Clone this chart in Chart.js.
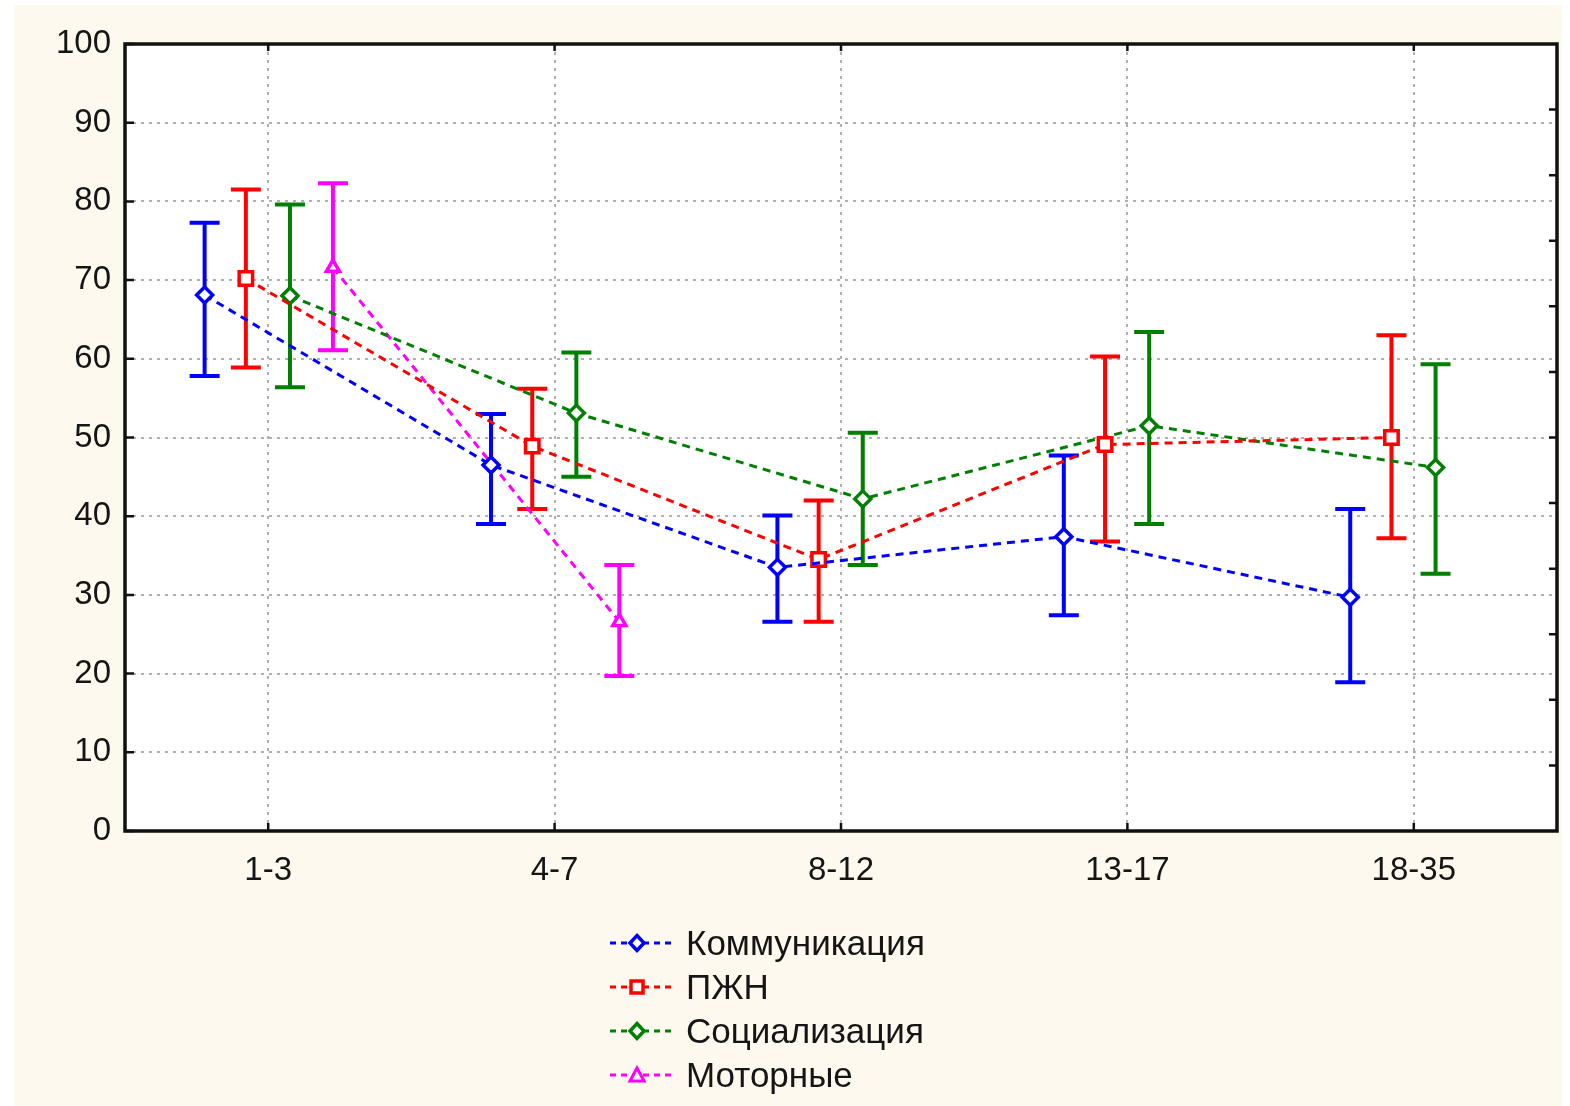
<!DOCTYPE html>
<html><head><meta charset="utf-8">
<script src="https://cdn.jsdelivr.net/npm/chart.js@4.4.1/dist/chart.umd.min.js"></script>
<style>
html,body{margin:0;padding:0;background:#fff;}
#wrap{position:relative;width:1570px;height:1106px;overflow:hidden;}
#bg{position:absolute;left:14px;top:5px;width:1548px;height:1101px;background:#fdf9ee;}
#c{position:absolute;left:0;top:0;}
#legend{position:absolute;left:610px;top:921px;font-family:"Liberation Sans",Arial,sans-serif;font-size:35px;color:#151515;}
.row{height:44px;display:flex;align-items:center;}
.row svg{margin-right:12px;flex:none}
</style></head>
<body>
<div id="wrap"><div id="bg"></div><canvas id="c" width="1570" height="1106"></canvas><div id="legend"></div></div>
<script>
const categories = ['1-3', '4-7', '8-12', '13-17', '18-35'];
const seriesNames = ['Коммуникация', 'ПЖН', 'Социализация', 'Моторные'];
const commMean = [68.1, 46.5, 33.5, 37.4, 29.7];
const commLow  = [57.8, 39.0, 26.6, 27.4, 18.9];
const commHigh = [77.3, 53.0, 40.1, 47.7, 40.9];
const pzhnMean = [70.2, 48.9, 34.5, 49.1, 50.0];
const pzhnLow  = [58.9, 40.9, 26.6, 36.8, 37.2];
const pzhnHigh = [81.5, 56.2, 42.0, 60.3, 63.0];
const socMean  = [68.0, 53.1, 42.2, 51.5, 46.2];
const socLow   = [56.4, 45.0, 33.8, 39.0, 32.7];
const socHigh  = [79.6, 60.8, 50.6, 63.4, 59.3];
const motMean  = [71.6, 26.6, null, null, null];
const motLow   = [61.1, 19.7, null, null, null];
const motHigh  = [82.3, 33.8, null, null, null];
const yTicks = [0, 10, 20, 30, 40, 50, 60, 70, 80, 90, 100];

// presentation
const colors = ['#0000ff', '#ff0000', '#008000', '#ff00ff'];
const shapes = ['rectRot', 'rect', 'rectRot', 'triangle'];
const radii = [8, 9.5, 8, 7.5];
const offsets = [-0.222, -0.078, 0.076, 0.226];
const means = [commMean, pzhnMean, socMean, motMean];
const lows = [commLow, pzhnLow, socLow, motLow];
const highs = [commHigh, pzhnHigh, socHigh, motHigh];

const datasets = seriesNames.map((name, s) => ({
  label: name,
  data: means[s].map((v, i) => v == null ? null : {x: i + 1 + offsets[s], y: v, lo: lows[s][i], hi: highs[s][i]}).filter(p => p),
  borderColor: colors[s],
  borderWidth: 3,
  borderDash: [8, 6],
  pointStyle: shapes[s],
  pointRadius: radii[s],
  pointBorderWidth: 3.5,
  pointBorderColor: colors[s],
  pointBackgroundColor: '#ffffff',
  tension: 0,
  fill: false
}));

const deco = {
  id: 'deco',
  beforeDraw(chart) {
    const {ctx, chartArea: a} = chart;
    ctx.save();
    ctx.fillStyle = '#ffffff';
    ctx.fillRect(a.left, a.top, a.right - a.left, a.bottom - a.top);
    ctx.restore();
  },
  beforeDatasetsDraw(chart) {
    const {ctx} = chart;
    const xs = chart.scales.x, ys = chart.scales.y;
    ctx.save();
    ctx.lineWidth = 4;
    chart.data.datasets.forEach((ds, s) => {
      ctx.strokeStyle = colors[s];
      ds.data.forEach(p => {
        const x = xs.getPixelForValue(p.x);
        const y1 = ys.getPixelForValue(p.lo), y2 = ys.getPixelForValue(p.hi);
        ctx.beginPath();
        ctx.moveTo(x, y1); ctx.lineTo(x, y2);
        ctx.moveTo(x - 15, y1); ctx.lineTo(x + 15, y1);
        ctx.moveTo(x - 15, y2); ctx.lineTo(x + 15, y2);
        ctx.stroke();
      });
    });
    ctx.restore();
  },
  afterDraw(chart) {
    const {ctx, chartArea: a} = chart;
    const xs = chart.scales.x, ys = chart.scales.y;
    ctx.save();
    ctx.strokeStyle = '#111';
    ctx.lineWidth = 2.5;
    ctx.beginPath();
    yTicks.forEach(v => {
      const y = ys.getPixelForValue(v);
      ctx.moveTo(a.left, y); ctx.lineTo(a.left + 9, y);
    });
    for (let k = 1; k < 12; k++) {
      const y = ys.getPixelForValue(k * 100 / 12);
      ctx.moveTo(a.right, y); ctx.lineTo(a.right - 8, y);
    }
    categories.forEach((c, i) => {
      const x = xs.getPixelForValue(i + 1);
      ctx.moveTo(x, a.top); ctx.lineTo(x, a.top + 7);
      ctx.moveTo(x, a.bottom); ctx.lineTo(x, a.bottom - 8);
    });
    ctx.stroke();
    ctx.lineWidth = 3.5;
    ctx.strokeRect(a.left, a.top, a.right - a.left, a.bottom - a.top);
    ctx.restore();
  }
};

const font = {family: '"Liberation Sans", Arial, sans-serif', size: 33};

new Chart(document.getElementById('c'), {
  type: 'line',
  data: {datasets},
  plugins: [deco],
  options: {
    responsive: false,
    devicePixelRatio: 1,
    animation: false,
    layout: {padding: {left: 15, top: 44, right: 11, bottom: 195}},
    plugins: {legend: {display: false}, tooltip: {enabled: false}},
    scales: {
      x: {
        type: 'linear', min: 0.5, max: 5.5,
        afterBuildTicks: s => { s.ticks = categories.map((c, i) => ({value: i + 1})); },
        afterFit: s => { s.height = 80; },
        ticks: {callback: (v) => categories[Math.round(v) - 1] || '', font, color: '#151515', padding: 20, maxRotation: 0, autoSkip: false},
        grid: {color: '#b0b0b0', lineWidth: 2, drawTicks: false},
        border: {display: false, dash: [3, 5]}
      },
      y: {
        min: 0, max: 100,
        afterBuildTicks: s => { s.ticks = yTicks.map(v => ({value: v})); },
        afterFit: s => { s.width = 110; },
        ticks: {font, color: '#151515', padding: 14},
        grid: {color: '#b0b0b0', lineWidth: 2, drawTicks: false},
        border: {display: false, dash: [3, 5]}
      }
    }
  }
});

// legend
const leg = document.getElementById('legend');
seriesNames.forEach((name, s) => {
  const c = colors[s];
  let mk;
  if (shapes[s] === 'rect') mk = `<rect x="21" y="5" width="12" height="12" fill="#fff" stroke="${c}" stroke-width="3.5"/>`;
  else if (shapes[s] === 'triangle') mk = `<polygon points="27,4 34,17 20,17" fill="#fff" stroke="${c}" stroke-width="3"/>`;
  else mk = `<polygon points="27,3.5 34,11 27,18.5 20,11" fill="#fff" stroke="${c}" stroke-width="3.5"/>`;
  const row = document.createElement('div');
  row.className = 'row';
  row.innerHTML = `<svg width="64" height="22"><line x1="0" y1="11" x2="64" y2="11" stroke="${c}" stroke-width="3" stroke-dasharray="6 5"/>${mk}</svg><span>${name}</span>`;
  leg.appendChild(row);
});
</script>
</body></html>
